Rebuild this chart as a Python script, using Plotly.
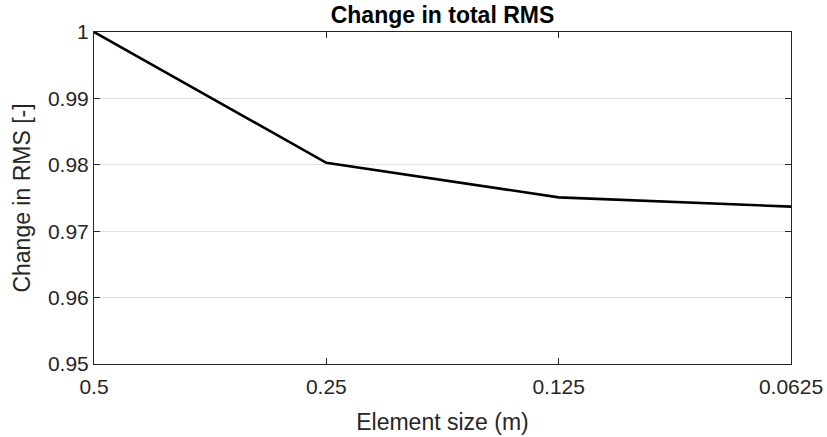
import plotly.graph_objects as go

# Data
element_size = ["0.5", "0.25", "0.125", "0.0625"]
rms_change = [1.0, 0.9803, 0.9751, 0.9737]
y_ticks = [0.95, 0.96, 0.97, 0.98, 0.99, 1.0]
y_tick_labels = ["0.95", "0.96", "0.97", "0.98", "0.99", "1"]

axis_col = "rgb(38,38,38)"
font_family = "Liberation Sans, Arial, sans-serif"

fig = go.Figure()

fig.add_trace(go.Scatter(
    x=element_size,
    y=rms_change,
    mode="lines",
    line=dict(color="black", width=2.6),
    showlegend=False))

fig.update_layout(
    width=827,
    height=437,
    margin=dict(l=94, r=36, t=32, b=73),
    paper_bgcolor="white",
    plot_bgcolor="white",
    font=dict(family=font_family, size=21, color=axis_col),
    title=dict(
        text="<b>Change in total RMS</b>",
        x=0.5, xanchor="center",
        xref="paper",
        y=0.966, yanchor="middle",
        font=dict(size=23, color="black")))

fig.update_xaxes(
    type="category",
    range=[0, 3],
    automargin=False,
    tickfont=dict(size=21),
    ticklabelstandoff=4,
    title=dict(text="Element size (m)", font=dict(size=23), standoff=16),
    showline=True, linecolor=axis_col, linewidth=1, mirror="ticks",
    ticks="inside", ticklen=6, tickcolor=axis_col,
    showgrid=False, zeroline=False)

fig.update_yaxes(
    range=[0.95, 1.0],
    automargin=False,
    tickvals=y_ticks,
    ticktext=y_tick_labels,
    tickfont=dict(size=21),
    title=dict(text="Change in RMS [-]", font=dict(size=23), standoff=10),
    showline=True, linecolor=axis_col, linewidth=1, mirror="ticks",
    ticks="inside", ticklen=6, tickcolor=axis_col,
    showgrid=True, gridcolor="#e0e0e0", gridwidth=1, zeroline=False)

# drop the default page margin so the figure sits at the window's corner
fig.write_html("out.html", config={"displayModeBar": False},
               post_script="document.body.style.margin='0';")
